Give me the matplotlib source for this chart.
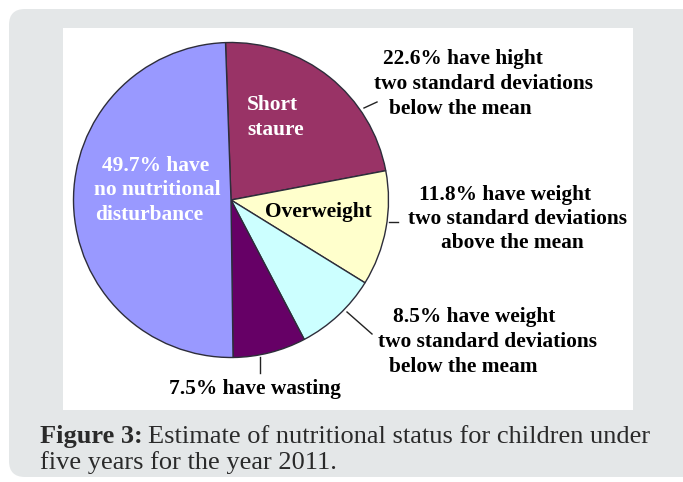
import matplotlib
matplotlib.use("Agg")
import matplotlib.pyplot as plt
from matplotlib.patches import FancyBboxPatch, Rectangle

# ---- data ----
categories = ["Short stature", "Overweight", "Weight below mean", "Wasting", "No nutritional disturbance"]
values = [22.6, 11.8, 8.5, 7.5, 49.7]
colors = ["#993366", "#ffffcc", "#ccffff", "#660066", "#9999ff"]

W, H = 683, 482
fig = plt.figure(figsize=(W / 100, H / 100), dpi=100)
ax = fig.add_axes([0, 0, 1, 1])
ax.set_xlim(0, W)
ax.set_ylim(0, H)
ax.axis("off")

def Y(y):  # top-based pixel -> data
    return H - y

# background gray rounded box
ax.add_patch(FancyBboxPatch((9, Y(477)), W - 9 + 20, 477 - 9,
                            boxstyle="round,pad=0,rounding_size=16",
                            fc="#e4e7e8", ec="none", zorder=0))
# white panel
ax.add_patch(Rectangle((63, Y(410)), 633 - 63, 410 - 28, fc="white", ec="none", zorder=1))

# pie
wedges, _ = ax.pie(values, colors=colors, startangle=92, counterclock=False,
                   center=(231, Y(200)), radius=157.5, frame=True,
                   wedgeprops=dict(edgecolor="#2d2d3a", linewidth=1.0))
for w in wedges:
    w.set_zorder(2)
ax.set_xlim(0, W)
ax.set_ylim(0, H)
ax.set_aspect("equal")
ax.axis("off")

serif = ["Liberation Serif", "DejaVu Serif"]
fs = 15.4

def txt(x, y, s, color="black", ha="center", size=fs, weight="bold"):
    ax.text(x, Y(y), s, ha=ha, va="center", color=color, fontsize=size,
            fontweight=weight, family=serif, zorder=5)

# inside labels
txt(247, 105, "Short", color="white", ha="left")
txt(247, 130, "staure", color="white", ha="left")
txt(156, 166, "49.7% have", color="white")
txt(157, 190, "no nutritional", color="white")
txt(149, 215, "disturbance", color="white")
txt(318, 212, "Overweight")

# outside labels
txt(463, 59, "22.6% have hight")
txt(483, 84, "two standard deviations")
txt(460, 109, "below the mean")

txt(505, 195, "11.8% have weight")
txt(517, 219, "two standard deviations")
txt(512, 243, "above the mean")

txt(474, 317, "8.5% have weight")
txt(487, 342, "two standard deviations")
txt(463, 367, "below the meam")

txt(255, 389, "7.5% have wasting")

# leader lines
lines = [((364, 108), (377, 102)), ((389, 222), (398, 222)),
         ((347, 312), (372, 334)), ((260, 357), (260, 373))]
for (x0, y0), (x1, y1) in lines:
    ax.plot([x0, x1], [Y(y0), Y(y1)], color="#222222", lw=1.0, zorder=4)

# caption
cap_fs = 19
t1 = ax.text(40, Y(437), "Figure 3:", ha="left", va="center", fontsize=cap_fs,
             fontweight="bold", family=serif, color="#2a2a2a", zorder=5)
fig.canvas.draw()
bb = t1.get_window_extent()
x_end = ax.transData.inverted().transform((bb.x1, bb.y0))[0]
ax.text(x_end + 5, Y(437), "Estimate of nutritional status for children under", ha="left",
        va="center", fontsize=cap_fs, family=serif, color="#2a2a2a", zorder=5)
ax.text(40, Y(463), "five years for the year 2011.", ha="left", va="center",
        fontsize=cap_fs, family=serif, color="#2a2a2a", zorder=5)

fig.savefig("out.png", dpi=100)
